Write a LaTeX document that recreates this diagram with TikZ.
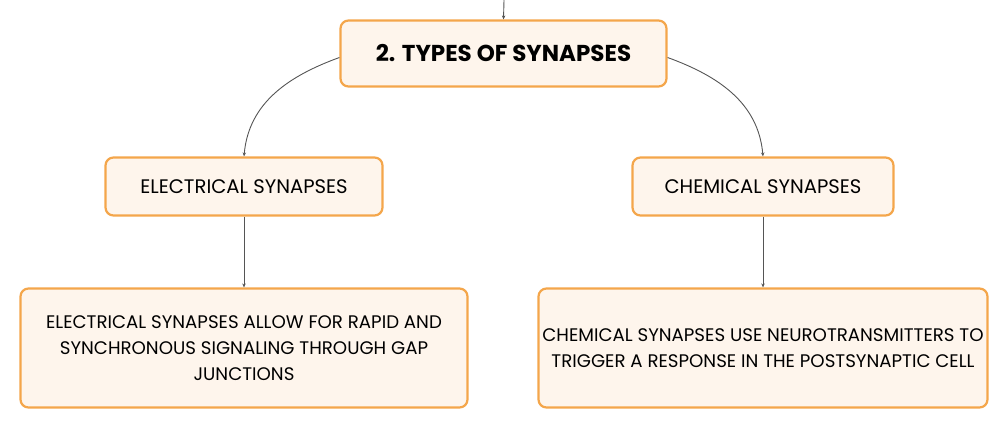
\documentclass[tikz,border=0pt]{standalone}
\usepackage{fontspec}
\setmainfont{Poppins}
\usetikzlibrary{arrows.meta}
\definecolor{boxfill}{HTML}{FEF5EC}
\definecolor{boxline}{HTML}{F4A64B}
\definecolor{conn}{HTML}{555555}
\tikzset{
  mbox/.style={draw=boxline, fill=boxfill, line width=2.2pt, rounded corners=8pt, inner sep=0pt, align=center},
  conline/.style={draw=conn, line width=0.9pt, -{Stealth[length=4pt,width=3.5pt]}},
  txt/.style={font=\fontsize{18.2}{26}\selectfont},
  midtxt/.style={font=\fontsize{19.6}{26}\selectfont},
}
\begin{document}
\begin{tikzpicture}[x=1pt,y=-1pt]
\useasboundingbox (0,0) rectangle (1008,429);
\node[mbox, minimum width=326pt, minimum height=66pt, font=\bfseries\fontsize{23}{26}\selectfont] (top) at (503.5,53.5) {2. TYPES OF SYNAPSES};
\node[mbox, minimum width=277pt, minimum height=58pt, midtxt] (elec) at (244,186.5) {ELECTRICAL SYNAPSES};
\node[mbox, minimum width=261pt, minimum height=58pt, midtxt] (chem) at (763,186.5) {CHEMICAL SYNAPSES};
\node[mbox, minimum width=447pt, minimum height=119pt, txt] (elecd) at (244,348) {ELECTRICAL SYNAPSES ALLOW FOR RAPID AND\\SYNCHRONOUS SIGNALING THROUGH GAP\\JUNCTIONS};
\node[mbox, minimum width=449pt, minimum height=119pt, txt] (chemd) at (763,348) {CHEMICAL SYNAPSES USE NEUROTRANSMITTERS TO\\TRIGGER A RESPONSE IN THE POSTSYNAPTIC CELL};
\coordinate (in) at (504,0);
\draw[conline] (in) -- (top.north);
\draw[conline] (top.west) ++(0,4) to[out=200, in=85] (elec.north);
\draw[conline] (top.east) ++(0,4) to[out=-20, in=95] (chem.north);
\draw[conline] (elec.south) -- (elecd.north);
\draw[conline] (chem.south) -- (chemd.north);
\end{tikzpicture}
\end{document}
